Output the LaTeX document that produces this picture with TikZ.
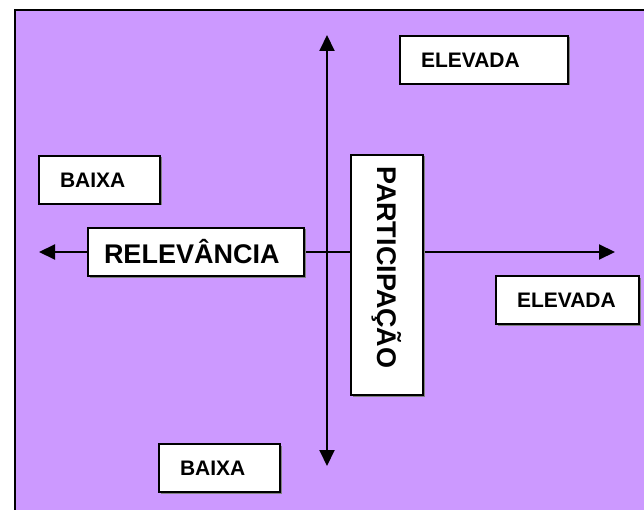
\documentclass[tikz,border=0pt]{standalone}
\usepackage{fontspec}
\setmainfont{Liberation Sans}
\usetikzlibrary{arrows.meta,shadows}
\definecolor{lilac}{HTML}{CC99FF}
\tikzstyle{labelbox}=[draw,fill=white,line width=2pt,anchor=north west,minimum height=48pt,inner xsep=21pt,align=left,drop shadow={shadow xshift=1.5pt,shadow yshift=-1.5pt,fill=black!50,opacity=1},font=\fontsize{21}{25}\selectfont\bfseries]
\tikzstyle{bigbox}=[font=\fontsize{27}{32}\selectfont\bfseries]
\tikzstyle{axis}=[draw,line width=2pt,{Triangle[length=16pt,width=15pt]}-{Triangle[length=16pt,width=15pt]}]

\begin{document}
\begin{tikzpicture}[x=1pt,y=-1pt]
    \useasboundingbox (0,0) rectangle (644,510);
    % background panel
    \fill[lilac] (15,10) rectangle (644,510);
    \draw[line width=2pt] (15,510) |- (644,10);

    % axes
    \coordinate (top) at (327,35);
    \coordinate (bottom) at (327,466);
    \coordinate (left) at (39,252);
    \coordinate (right) at (615,252);
    \path[axis] (top) -- (bottom);
    \path[axis] (left) -- (right);

    % labels of the ends
    \node[labelbox,text width=79pt] (baixa h) at (38,155) {BAIXA};
    \node[labelbox,text width=126pt] (elevada v) at (399,35) {ELEVADA};
    \node[labelbox,text width=101pt] (elevada h) at (495,275) {ELEVADA};
    \node[labelbox,text width=79pt] (baixa v) at (158,443) {BAIXA};

    % axis names
    \node[labelbox,bigbox,text width=184pt,inner xsep=16pt] (relevancia) at (87,227) {RELEVÂNCIA};
    \node[labelbox,bigbox,rotate=-90,anchor=center,minimum height=72pt,text width=216pt,inner xsep=12pt] (participacao) at (387,275) {PARTICIPAÇÃO};
\end{tikzpicture}
\end{document}
